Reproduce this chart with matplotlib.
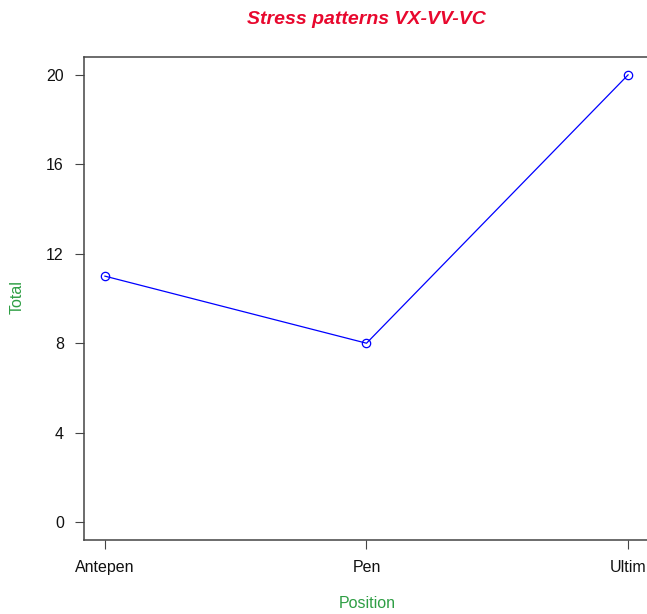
import matplotlib
matplotlib.use("Agg")
import matplotlib.pyplot as plt

positions = ["Antepen", "Pen", "Ultim"]
totals = [11, 8, 20]
y_ticks = [0, 4, 8, 12, 16, 20]

plt.rcParams['font.family'] = ['Liberation Sans', 'DejaVu Sans']

W, H = 647, 614
fig = plt.figure(figsize=(W / 100, H / 100), dpi=100)
left, right, top, bottom = 84, 649, 57, 540
ax = fig.add_axes([left / W, 1 - bottom / H, (right - left) / W, (bottom - top) / H])

x = list(range(1, len(positions) + 1))
ax.plot(x, totals, color='#0000ff', linewidth=0.9, marker='o', markersize=6,
        markerfacecolor='none', markeredgecolor='#0000ff', markeredgewidth=0.9)

ax.set_xlim(0.92, 3.08)
ax.set_ylim(-0.8, 20.8)
ax.set_xticks(x)
ax.set_xticklabels(positions)
ax.set_yticks(y_ticks)
ax.tick_params(axis='both', direction='out', length=6.5, width=0.8, colors='#444444',
               labelcolor='#111111', labelsize=11.5)
ax.tick_params(axis='x', pad=8)
ax.tick_params(axis='y', pad=8)
for s in ax.spines.values():
    s.set_color('#444444')
    s.set_linewidth(1.1)

fig.text((left + right) / 2 / W, 1 - 19 / H, "Stress patterns VX-VV-VC", color='#e8082e',
         fontsize=14, fontweight='bold', fontstyle='italic', ha='center', va='center')
fig.text(367 / W, 1 - 604 / H, "Position", color='#2e9e44', fontsize=11.5, ha='center', va='center')
fig.text(17 / W, 1 - 297 / H, "Total", color='#2e9e44', fontsize=11.5, ha='center', va='center',
         rotation=90)

fig.savefig("out.png", dpi=100)
